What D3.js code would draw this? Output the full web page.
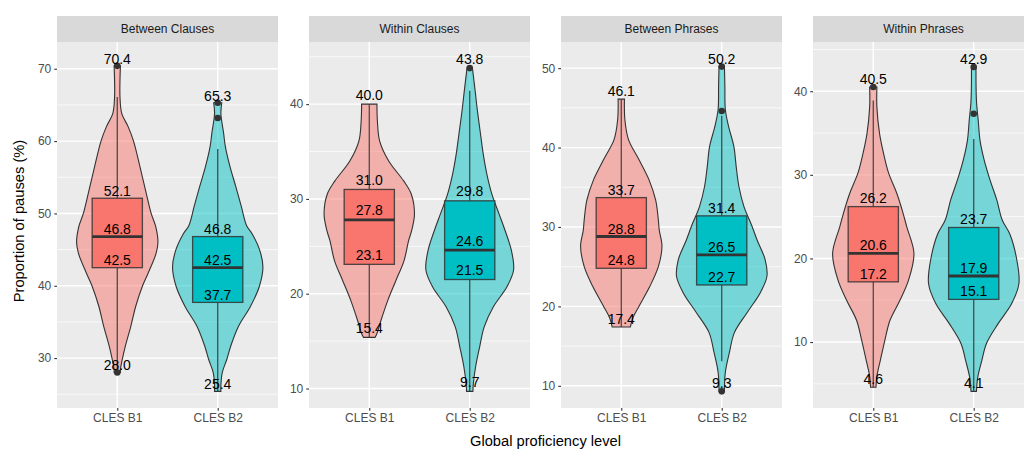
<!DOCTYPE html>
<html>
<head>
<meta charset="utf-8">
<script src="https://cdn.jsdelivr.net/npm/d3@7"></script>
<style>
  body { margin: 0; background: #fff; }
  svg { display: block; font-family: "Liberation Sans", Arial, sans-serif; }
</style>
</head>
<body>
<svg id="chart" width="1024" height="449"></svg>
<script>
// facets and groups
var facets = ["Between Clauses", "Within Clauses", "Between Phrases", "Within Phrases"];
var levels = ["CLES B1", "CLES B2"];
var levelColors = ["#F8766D", "#00BFC4"];

var yTicks = [
    [30, 40, 50, 60, 70],
    [10, 20, 30, 40],
    [10, 20, 30, 40, 50],
    [10, 20, 30, 40]
];

// [min, q1, median, q3, max] per facet, per level
var stats = [
    [[28.0, 42.5, 46.8, 52.1, 70.4], [25.4, 37.7, 42.5, 46.8, 65.3]],
    [[15.4, 23.1, 27.8, 31.0, 40.0], [9.7, 21.5, 24.6, 29.8, 43.8]],
    [[17.4, 24.8, 28.8, 33.7, 46.1], [9.3, 22.7, 26.5, 31.4, 50.2]],
    [[4.6, 17.2, 20.6, 26.2, 40.5], [4.1, 15.1, 17.9, 23.7, 42.9]]
];

// whisker ends [low, high]
var whiskers = [
    [[28.5, 66.1], [25.4, 58.9]],
    [[15.4, 40.0], [9.7, 41.4]],
    [[17.4, 46.1], [13.1, 44.0]],
    [[4.6, 38.9], [4.1, 34.3]]
];

var outliers = [
    [[70.4, 28.0], [65.3, 63.2]],
    [[], [43.8]],
    [[], [50.2, 44.6, 9.3]],
    [[40.5], [42.9, 37.3]]
];

// violin density profiles: [value, relative density]
var densities = [
    [
        [[70.4,.07],[66.1,.06],[63.8,.10],[62.0,.24],[60,.36],[56.5,.50],[52.8,.64],[50,.75],[48.2,.85],[46,.90],[44.5,.86],[41.7,.68],[40,.56],[37.2,.41],[34.4,.30],[31.7,.18],[29.8,.11],[28.4,.07],[28.0,.07]],
        [[65.3,.09],[63.8,.07],[61.1,.13],[59.2,.17],[56.5,.27],[53.7,.40],[51,.52],[48.3,.64],[47.2,.76],[44.9,.93],[42.6,1.0],[39.9,.92],[37.1,.72],[34.4,.46],[31.7,.29],[29.8,.20],[28,.10],[26.2,.07],[25.4,.07]]
    ],
    [
        [[40,.17],[38.2,.18],[36.1,.23],[34,.43],[31.9,.76],[30.5,.93],[28.4,1.0],[26.7,.94],[25.6,.87],[23.5,.77],[21.4,.59],[19.3,.41],[17.2,.26],[15.8,.17],[15.4,.13]],
        [[43.8,.06],[41.4,.12],[39.3,.17],[36.8,.24],[34.7,.30],[32.6,.38],[30.5,.49],[28.4,.65],[26.7,.78],[24.6,.92],[22.5,.97],[20.7,.82],[18.6,.52],[16.5,.32],[14.4,.22],[12.3,.13],[10.5,.08],[9.7,.07]]
    ],
    [
        [[46.1,.07],[43.5,.08],[41,.16],[38.5,.39],[36,.61],[33.4,.76],[30.9,.82],[29.6,.84],[27.6,.90],[25,.82],[22.5,.63],[20,.39],[18.6,.26],[17.4,.20]],
        [[50.2,.06],[47.7,.07],[44.8,.08],[42.7,.15],[40.1,.27],[37.6,.32],[35.1,.38],[32.6,.49],[30.1,.67],[28.4,.78],[25.9,.96],[23.8,1.0],[21.7,.85],[19.2,.56],[16.7,.28],[14.2,.17],[11.7,.08],[9.3,.06]]
    ],
    [
        [[40.5,.08],[38.1,.08],[34.9,.14],[32.5,.23],[30.2,.34],[27.8,.52],[25.4,.66],[23.8,.74],[20.6,.90],[17.4,.78],[15,.59],[12.6,.37],[10.3,.26],[7.9,.16],[5.9,.08],[4.6,.06]],
        [[42.9,.05],[38.9,.06],[36.5,.10],[34.1,.14],[31.8,.23],[29.4,.36],[27,.51],[24.6,.63],[22.9,.80],[20.2,.94],[17,1.0],[14.6,.84],[12.2,.54],[9.8,.28],[7.8,.18],[5.8,.09],[4.1,.06]]
    ]
];

var labelNudge = 1;

const panelLeft = 57;
const panelWidth = 221;
const panelPitch = 252;
const stripTop = 16;
const plotTop = 42;
const plotBottom = 408;

var svg = d3.select("#chart");

facets.forEach(function(facet, f) {
    var g = svg.append("g")
        .attr("transform", "translate(" + (panelLeft + f * panelPitch) + ",0)");

    // y domain from data, 5% expansion like ggplot
    var lo = d3.min(stats[f], function(s) { return s[0]; });
    var hi = d3.max(stats[f], function(s) { return s[4]; }) + labelNudge;
    var pad = (hi - lo) * 0.05;

    var y = d3.scaleLinear()
        .domain([lo - pad, hi + pad])
        .range([plotBottom, plotTop]);

    var x = d3.scalePoint()
        .domain(levels)
        .range([0, panelWidth])
        .padding(0.6);
    var step = x.step();

    var w = d3.scaleLinear().domain([0, 1]).range([0, step * 0.45]);

    // background + grid
    g.append("rect")
        .attr("x", 0).attr("y", plotTop)
        .attr("width", panelWidth).attr("height", plotBottom - plotTop)
        .attr("fill", "#EBEBEB");

    var minor = [];
    for (var i = 0; i < yTicks[f].length + 1; i++) {
        var t = (i === 0) ? yTicks[f][0] - 5 : yTicks[f][i - 1] + 5;
        if (t > y.domain()[0] && t < y.domain()[1]) minor.push(t);
    }
    g.selectAll(".minor").data(minor).enter().append("line")
        .attr("x1", 0).attr("x2", panelWidth)
        .attr("y1", function(d) { return y(d); })
        .attr("y2", function(d) { return y(d); })
        .attr("stroke", "#fff").attr("stroke-width", 0.7);

    g.selectAll(".major").data(yTicks[f]).enter().append("line")
        .attr("x1", 0).attr("x2", panelWidth)
        .attr("y1", function(d) { return y(d); })
        .attr("y2", function(d) { return y(d); })
        .attr("stroke", "#fff").attr("stroke-width", 1.4);

    g.selectAll(".vmajor").data(levels).enter().append("line")
        .attr("x1", function(d) { return x(d); })
        .attr("x2", function(d) { return x(d); })
        .attr("y1", plotTop).attr("y2", plotBottom)
        .attr("stroke", "#fff").attr("stroke-width", 1.4);

    // strip
    g.append("rect")
        .attr("x", 0).attr("y", stripTop)
        .attr("width", panelWidth).attr("height", plotTop - stripTop)
        .attr("fill", "#D9D9D9");
    g.append("text")
        .attr("x", panelWidth / 2).attr("y", (stripTop + plotTop) / 2)
        .attr("dy", "0.36em")
        .attr("text-anchor", "middle")
        .attr("font-size", 12)
        .attr("fill", "#1A1A1A")
        .text(facet);

    // axes
    var yAxis = d3.axisLeft(y).tickValues(yTicks[f]).tickSize(2.75).tickPadding(3);
    var ya = g.append("g").call(yAxis);
    var xAxis = d3.axisBottom(x).tickSize(2.75).tickPadding(3);
    var xa = g.append("g").attr("transform", "translate(0," + plotBottom + ")").call(xAxis);
    [ya, xa].forEach(function(a) {
        a.select(".domain").remove();
        a.selectAll("line").attr("stroke", "#333333").attr("stroke-width", 1.1);
        a.selectAll("text").attr("fill", "#4D4D4D").attr("font-size", 12)
            .attr("font-family", "Liberation Sans, Arial, sans-serif");
    });

    levels.forEach(function(lvl, k) {
        var cx = x(lvl);
        var s = stats[f][k];

        // violin
        var area = d3.area()
            .y(function(d) { return y(d[0]); })
            .x0(function(d) { return cx - w(d[1]); })
            .x1(function(d) { return cx + w(d[1]); })
            .curve(d3.curveCatmullRom);
        g.append("path")
            .datum(densities[f][k])
            .attr("d", area)
            .attr("fill", levelColors[k])
            .attr("fill-opacity", 0.5)
            .attr("stroke", "#333333")
            .attr("stroke-width", 1.1);

        // whiskers
        g.append("line")
            .attr("x1", cx).attr("x2", cx)
            .attr("y1", y(s[3])).attr("y2", y(whiskers[f][k][1]))
            .attr("stroke", "#333333").attr("stroke-opacity", 0.85).attr("stroke-width", 1.3);
        g.append("line")
            .attr("x1", cx).attr("x2", cx)
            .attr("y1", y(s[1])).attr("y2", y(whiskers[f][k][0]))
            .attr("stroke", "#333333").attr("stroke-opacity", 0.85).attr("stroke-width", 1.3);

        // box
        g.append("rect")
            .attr("x", cx - step * 0.25)
            .attr("y", y(s[3]))
            .attr("width", step * 0.5)
            .attr("height", y(s[1]) - y(s[3]))
            .attr("fill", levelColors[k])
            .attr("stroke", "#333333").attr("stroke-opacity", 0.85)
            .attr("stroke-width", 1.3);
        g.append("line")
            .attr("x1", cx - step * 0.25).attr("x2", cx + step * 0.25)
            .attr("y1", y(s[2])).attr("y2", y(s[2]))
            .attr("stroke", "#333333").attr("stroke-width", 2.8);

        // outliers
        g.selectAll(".out" + k).data(outliers[f][k]).enter().append("circle")
            .attr("cx", cx)
            .attr("cy", function(d) { return y(d); })
            .attr("r", 3.3)
            .attr("fill", "#333333");

        // labels
        g.selectAll(".lab" + k).data(s).enter().append("text")
            .attr("x", cx)
            .attr("y", function(d) { return y(d + labelNudge); })
            .attr("dy", "0.36em")
            .attr("text-anchor", "middle")
            .attr("font-size", 14)
            .attr("fill", "#000")
            .text(function(d) { return d.toFixed(1); });
    });
});

// axis titles
svg.append("text")
    .attr("x", panelLeft + (facets.length * panelPitch - (panelPitch - panelWidth)) / 2)
    .attr("y", 446)
    .attr("text-anchor", "middle")
    .attr("font-size", 14.7)
    .attr("fill", "#000")
    .text("Global proficiency level");

svg.append("text")
    .attr("transform", "translate(23.5,221) rotate(-90)")
    .attr("text-anchor", "middle")
    .attr("font-size", 14.7)
    .attr("fill", "#000")
    .text("Proportion of pauses (%)");
</script>
</body>
</html>
